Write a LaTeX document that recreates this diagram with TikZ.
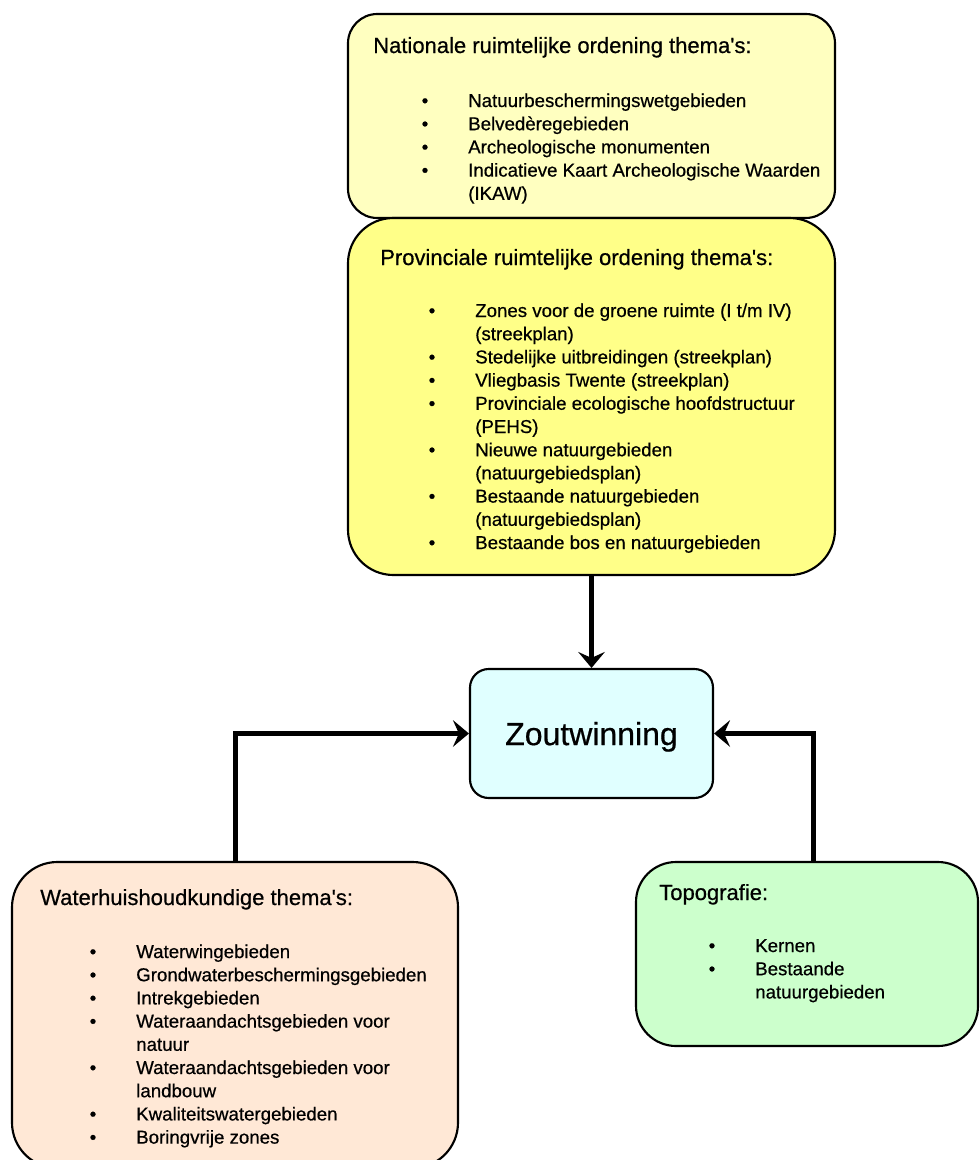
\documentclass[tikz,border=0pt]{standalone}
\usepackage{fontspec}
\setmainfont{Liberation Sans}[FakeBold=0.6]
\usepackage{tikz}
\usetikzlibrary{arrows.meta}
\definecolor{natcol}{RGB}{255,255,192}
\definecolor{provcol}{RGB}{255,255,136}
\definecolor{zoutcol}{RGB}{224,255,255}
\definecolor{watcol}{RGB}{255,232,214}
\definecolor{topocol}{RGB}{204,255,204}
\tikzstyle{titel}=[anchor=base west,inner sep=0pt,font=\fontsize{16.5}{20}\selectfont]
\tikzstyle{lijst}=[anchor=base west,inner sep=0pt,font=\fontsize{14}{17.4}\selectfont]
\newcommand{\bul}{\llap{\textbullet\hspace{30pt}}}
\newcommand{\apo}{\textquotesingle}

\begin{document}
\begin{tikzpicture}[x=0.75pt,y=-0.75pt]

\clip (0,0) rectangle (980,1160);

  \tikzset{thema/.style={draw, line width=1.6pt, rounded corners=#1, inner sep=0pt}}
  \tikzset{pijl/.style={line width=3.75pt, -{Stealth[length=12pt,width=20pt,inset=4.5pt]}}}

% boxes
\node[thema=22pt, fill=natcol, minimum width=365.25pt, minimum height=153pt] (nat) at (591.5,116) {};
\node[thema=34pt, fill=provcol, minimum width=365.25pt, minimum height=267.75pt] (prov) at (591.5,396.5) {};
\node[thema=14pt, fill=zoutcol, minimum width=182.25pt, minimum height=96.75pt, text depth=0pt,
      font=\fontsize{24}{28}\selectfont] (zout) at (591.5,733.5) {Zoutwinning};
\node[thema=34pt, fill=watcol, minimum width=334.5pt, minimum height=229.5pt] (wat) at (235,1015) {};
\node[thema=30pt, fill=topocol, minimum width=256.5pt, minimum height=138pt] (topo) at (807,954) {};

% texts
\node[titel] (natt) at (373,53) {Nationale ruimtelijke ordening thema\apo s:};
\node[lijst] (natl) at (468,107) {\begin{tabular}[t]{@{}l@{}}
\bul Natuurbeschermingswetgebieden\\
\bul Belvedèregebieden\\
\bul Archeologische monumenten\\
\bul Indicatieve Kaart Archeologische Waarden\\
(IKAW)
\end{tabular}};

\node[titel] (provt) at (380,265) {Provinciale ruimtelijke ordening thema\apo s:};
\node[lijst] (provl) at (475,317) {\begin{tabular}[t]{@{}l@{}}
\bul Zones voor de groene ruimte (I t/m IV)\\
(streekplan)\\
\bul Stedelijke uitbreidingen (streekplan)\\
\bul Vliegbasis Twente (streekplan)\\
\bul Provinciale ecologische hoofdstructuur\\
(PEHS)\\
\bul Nieuwe natuurgebieden\\
(natuurgebiedsplan)\\
\bul Bestaande natuurgebieden\\
(natuurgebiedsplan)\\
\bul Bestaande bos en natuurgebieden
\end{tabular}};

\node[titel] (watt) at (40,905) {Waterhuishoudkundige thema\apo s:};
\node[lijst] (watl) at (136,958) {\begin{tabular}[t]{@{}l@{}}
\bul Waterwingebieden\\
\bul Grondwaterbeschermingsgebieden\\
\bul Intrekgebieden\\
\bul Wateraandachtsgebieden voor\\
natuur\\
\bul Wateraandachtsgebieden voor\\
landbouw\\
\bul Kwaliteitswatergebieden\\
\bul Boringvrije zones
\end{tabular}};

\node[titel] (topot) at (659,900) {Topografie:};
\node[lijst] (topol) at (755,952) {\begin{tabular}[t]{@{}l@{}}
\bul Kernen\\
\bul Bestaande\\
natuurgebieden
\end{tabular}};

% arrows
\draw[pijl] (prov.south) -- (zout.north);
\draw[pijl] (wat.north) |- (zout.west);
\draw[pijl] ([xshift=4.5pt]topo.north) |- (zout.east);

\end{tikzpicture}
\end{document}
